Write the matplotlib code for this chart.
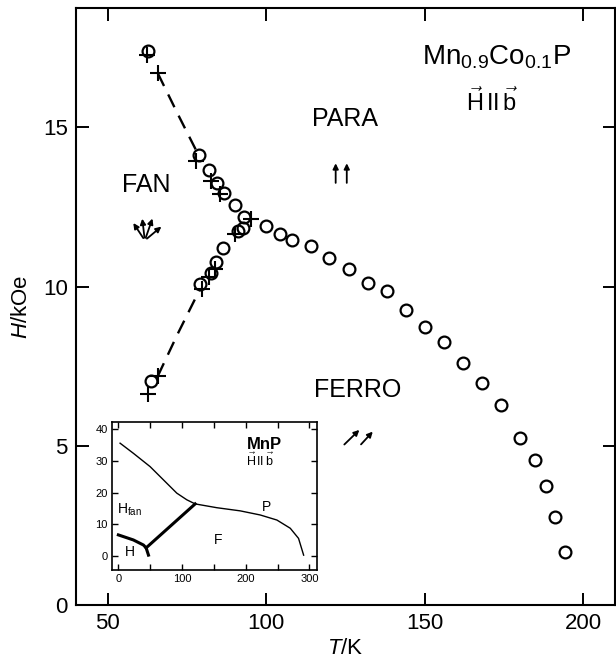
import matplotlib
matplotlib.use('Agg')
import matplotlib.pyplot as plt

plt.rcParams['font.family'] = ['Liberation Sans', 'DejaVu Sans']
plt.rcParams['mathtext.fontset'] = 'custom'
plt.rcParams['mathtext.rm'] = 'Liberation Sans'
plt.rcParams['mathtext.it'] = 'Liberation Sans:italic'
plt.rcParams['mathtext.bf'] = 'Liberation Sans:bold'

# circles (T in K, H in kOe)
circ_T = [62.6, 78.8, 82.0, 84.6, 86.6, 90.1, 92.9,
          92.7, 91.0, 86.4, 84.3, 82.7, 79.0, 63.8,
          99.8, 104.3, 108.0, 114.0, 119.7, 126.0, 132.0, 138.0, 144.0, 150.0,
          156.0, 162.0, 168.0, 174.0, 180.0, 184.7, 188.2, 191.0, 194.2]
circ_H = [17.40, 14.12, 13.67, 13.26, 12.93, 12.56, 12.20,
          11.84, 11.76, 11.21, 10.76, 10.44, 10.09, 7.03,
          11.91, 11.66, 11.47, 11.28, 10.90, 10.56, 10.12, 9.86, 9.27, 8.73,
          8.26, 7.60, 6.97, 6.27, 5.23, 4.54, 3.75, 2.77, 1.67]

# crosses
plus_T = [62.3, 65.8, 78.0, 82.7, 85.3, 95.3, 90.1, 83.8, 81.9, 79.6, 65.8, 62.6]
plus_H = [17.27, 16.70, 13.96, 13.33, 12.92, 12.13, 11.66, 10.56, 10.31, 9.93, 7.19, 6.62]

# dashed guides
up_T = [65.8, 72.2, 78.8]
up_H = [16.7, 15.4, 14.1]
lo_T = [65.8, 72.0, 79.0]
lo_H = [7.19, 8.5, 9.9]

# inset: MnP phase diagram (T in K, H in kOe)
fp_T = [2.7, 23.6, 49.8, 70.8, 91.8, 107.5, 120.6]
fp_H = [35.6, 32.4, 28.2, 24.0, 19.8, 17.7, 16.4]
pf_T = [120.6, 154.6, 191.4, 222.8, 249.0, 270.0, 283.0, 291.0]
pf_H = [16.4, 15.2, 14.2, 12.9, 11.3, 8.7, 5.5, 0.2]
ff_T = [43.6, 120.6]
ff_H = [2.5, 16.4]
hf_T = [0.0, 23.6, 39.4, 43.6, 47.3]
hf_H = [6.6, 5.0, 3.4, 2.5, 0.2]

fig = plt.figure(figsize=(6.16, 6.61), dpi=100)
ax = fig.add_axes([76/616, 56/661, 539/616, 597/661])

ax.plot(up_T, up_H, color='black', lw=1.7, dashes=(6, 4))
ax.plot(lo_T, lo_H, color='black', lw=1.7, dashes=(6, 4))
ax.plot(circ_T, circ_H, 'o', ms=8.5, mfc='none', mec='black', mew=1.6)
ax.plot(plus_T, plus_H, '+', ms=12, mec='black', mew=1.5)

ax.set_xlim(40, 210)
ax.set_ylim(0, 18.75)
ax.set_xticks([50, 100, 150, 200])
ax.set_yticks([0, 5, 10, 15])
ax.tick_params(direction='in', length=9, width=1.4, labelsize=16,
               top=True, right=True, pad=6)
for s in ax.spines.values():
    s.set_linewidth(1.5)
ax.set_xlabel('$T$/K', fontsize=16, labelpad=3)
ax.set_ylabel('$H$/kOe', fontsize=16, labelpad=8)

ax.text(172.7, 17.2, 'Mn$_{0.9}$Co$_{0.1}$P', fontsize=20, ha='center', va='center')
ax.text(171.3, 15.8, r'$\vec{\mathrm{H}}\,\mathrm{II}\,\vec{\mathrm{b}}$', fontsize=17,
        ha='center', va='center')
ax.text(124.8, 15.25, 'PARA', fontsize=18, ha='center', va='center')
ax.text(62.3, 13.2, 'FAN', fontsize=18, ha='center', va='center')
ax.text(128.8, 6.74, 'FERRO', fontsize=18, ha='center', va='center')

arr = dict(arrowstyle='-|>', color='black', lw=1.3, mutation_scale=8)
for x in [121.9, 125.4]:
    ax.annotate('', xy=(x, 13.96), xytext=(x, 13.17), arrowprops=arr)
ax.annotate('', xy=(130.0, 5.56), xytext=(124.0, 4.98), arrowprops=arr)
ax.annotate('', xy=(134.2, 5.51), xytext=(129.3, 4.98), arrowprops=arr)
for tx, ty in [(57.6, 12.07), (60.8, 12.22), (64.4, 12.22), (67.6, 11.94)]:
    ax.annotate('', xy=(tx, ty), xytext=(61.7, 11.45), arrowprops=arr)

# inset
ins = fig.add_axes([112/616, 91/661, 205/616, 148/661])
ins.plot(fp_T, fp_H, color='black', lw=1.0)
ins.plot(pf_T, pf_H, color='black', lw=1.0)
ins.plot(ff_T, ff_H, color='black', lw=2.2)
ins.plot(hf_T, hf_H, color='black', lw=2.2)
ins.set_xlim(-10, 312)
ins.set_ylim(-4.5, 42.3)
ins.set_xticks([0, 100, 200, 300])
ins.set_xticks([50, 150, 250], minor=True)
ins.set_yticks([0, 10, 20, 30, 40])
ins.tick_params(which='both', direction='in', length=4, width=1.0, labelsize=8,
                top=True, right=True, pad=3)
for s in ins.spines.values():
    s.set_linewidth(1.2)
ins.text(229, 35.3, 'MnP', fontsize=12, fontweight='bold', ha='center', va='center')
ins.text(223, 30.0, r'$\vec{\mathrm{H}}\,\mathrm{II}\,\vec{\mathrm{b}}$', fontsize=9,
         ha='center', va='center')
ins.text(18, 14.5, 'H$_{\\mathrm{fan}}$', fontsize=10, ha='center', va='center')
ins.text(233, 15.5, 'P', fontsize=10, ha='center', va='center')
ins.text(157, 5.0, 'F', fontsize=10, ha='center', va='center')
ins.text(18.4, 1.3, 'H', fontsize=10, ha='center', va='center')

fig.savefig('out.png', dpi=100)
